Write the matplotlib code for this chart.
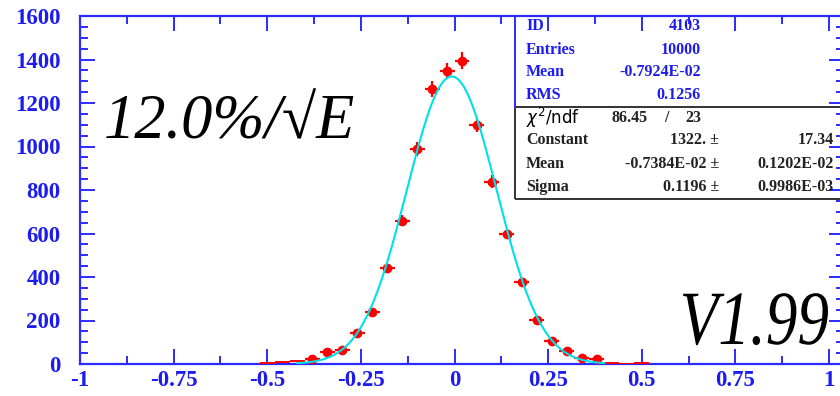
import numpy as np
import matplotlib
matplotlib.use("Agg")
import matplotlib.pyplot as plt
from matplotlib.patches import Rectangle, PathPatch
from matplotlib.textpath import TextPath
from matplotlib.font_manager import FontProperties
from matplotlib.transforms import Affine2D

# histogram ID 4103, bin width 0.04
bin_centers = [-0.50, -0.46, -0.42, -0.38, -0.34, -0.30, -0.26, -0.22, -0.18,
               -0.14, -0.10, -0.06, -0.02, 0.02, 0.06, 0.10, 0.14, 0.18,
               0.22, 0.26, 0.30, 0.34, 0.38, 0.42, 0.46, 0.50]
counts = [3, 10, 14, 22, 55, 64, 144, 239, 440, 659, 987, 1264, 1347, 1395,
          1099, 838, 598, 378, 202, 107, 61, 29, 24, 3, 1, 3]
bin_width = 0.04

# gaussian fit parameters (from the stats box)
fit_constant = 1322.0
fit_mean = -0.7384e-02
fit_sigma = 0.1196
fit_range = (-0.42, 0.40)

stats_top = [("ID", "4103"), ("Entries", "10000"),
             ("Mean", "-0.7924E-02"), ("RMS", "0.1256")]
fit_rows = [("Constant", "1322. \u00b1", "17.34"),
            ("Mean", "-0.7384E-02 \u00b1", "0.1202E-02"),
            ("Sigma", "0.1196 \u00b1", "0.9986E-03")]

x_ticks = [-1, -0.75, -0.5, -0.25, 0, 0.25, 0.5, 0.75, 1]
x_ticklabels = ["-1", "-0.75", "-0.5", "-0.25", "0", "0.25", "0.5", "0.75", "1"]
y_ticks = [0, 200, 400, 600, 800, 1000, 1200, 1400, 1600]

W, H = 840, 396
BLUE = "#2b2bff"
TXTBLUE = "#1c1cf0"

def fx(px):
    return px / W

def fy(py):
    return 1 - py / H

fig = plt.figure(figsize=(W / 100, H / 100), dpi=100)
# frame runs a bit past x=1, the right edge is cut off in the picture
ax = fig.add_axes([fx(80), fy(364), 2.04 * 374.5 / W, 348 / H])
ax.set_xlim(-1, 1.04)
ax.set_ylim(0, 1600)

for s in ax.spines.values():
    s.set_color(BLUE)
    s.set_linewidth(1.6)

ax.set_xticks(x_ticks)
ax.set_xticklabels(x_ticklabels)
ax.set_xticks(np.arange(-0.875, 1.0, 0.25), minor=True)
ax.set_yticks(y_ticks)
ax.set_yticks(np.arange(0, 1601, 50), minor=True)
ax.tick_params(which="both", direction="in", top=True, right=True,
               color=BLUE, width=1.4, labelcolor=TXTBLUE)
ax.tick_params(which="major", length=11)
ax.tick_params(which="minor", length=5.5)
ax.tick_params(axis="x", pad=4)
ax.tick_params(axis="y", pad=14)
for lab in ax.get_xticklabels() + ax.get_yticklabels():
    lab.set_fontfamily("Liberation Serif")
    lab.set_fontweight("bold")
    lab.set_fontsize(16.5)

# data points
xc = np.array(bin_centers)
yc = np.array(counts)
big = yc >= 20
ax.errorbar(xc[big], yc[big], xerr=bin_width / 2, yerr=np.sqrt(yc[big]),
            fmt="o", color="red", ms=6, elinewidth=1.6, capsize=0, zorder=3)
ax.errorbar(xc[~big], yc[~big], xerr=bin_width / 2, yerr=np.sqrt(yc[~big]),
            fmt="none", ecolor="red", elinewidth=1.4, capsize=0, zorder=3)

# fit curve
xf = np.linspace(fit_range[0], fit_range[1], 400)
yf = fit_constant * np.exp(-0.5 * ((xf - fit_mean) / fit_sigma) ** 2)
ax.plot(xf, yf, color="#00e0e8", lw=1.5, zorder=4)

# stats box
fig.add_artist(plt.Line2D([fx(515), fx(515)], [fy(16), fy(107)],
                          color=BLUE, lw=1.4))
fig.add_artist(Rectangle((fx(515), fy(199)), fx(340), (199 - 107) / H,
                         fill=False, edgecolor="#333333", lw=1.4,
                         transform=fig.transFigure))

sfont = dict(family="Liberation Serif", fontweight="bold", fontsize=11.5)
row_y = [26, 50, 72, 95]
for (lab, val), ry in zip(stats_top, row_y):
    fig.text(fx(526), fy(ry), lab, color=TXTBLUE, va="center", ha="left", **sfont)
    fig.text(fx(701), fy(ry), val, color=TXTBLUE, va="center", ha="right", **sfont)

fig.text(fx(526), fy(118), r"$\chi^2$/ndf", color="black", va="center",
         ha="left", family="DejaVu Sans", fontsize=12)
fig.text(fx(648), fy(118), "86.45", color="#222222", va="center", ha="right", **sfont)
fig.text(fx(666), fy(118), "/", color="#222222", va="center", ha="center", **sfont)
fig.text(fx(701), fy(118), "23", color="#222222", va="center", ha="right", **sfont)
row_y = [140, 164, 187]
for (lab, val, err), ry in zip(fit_rows, row_y):
    fig.text(fx(526), fy(ry), lab, color="#222222", va="center", ha="left", **sfont)
    fig.text(fx(719), fy(ry), val, color="#222222", va="center", ha="right", **sfont)
    fig.text(fx(834), fy(ry), err, color="#222222", va="center", ha="right", **sfont)

# big labels
fig.text(fx(104), fy(138), "12.0%/\u221aE", family=["Liberation Serif", "DejaVu Serif"],
         style="italic", fontsize=45, color="black", ha="left", va="baseline")

tp = TextPath((0, 0), "V1.99", size=72,
              prop=FontProperties(family="Liberation Serif", style="italic"))
ext = tp.get_extents()
# squeeze the text into its box (px): x 683..828, baseline 344, cap top 292
sx = (828 - 683) / ext.width
sy = (344 - 292) / ext.height
tr = (Affine2D().translate(-ext.x0, 0).scale(sx, sy)
      .translate(683, H - 344) + Affine2D().scale(fig.dpi / 100))
fig.add_artist(PathPatch(tp, transform=tr, color="black", lw=0))

fig.savefig("out.png", dpi=100)
